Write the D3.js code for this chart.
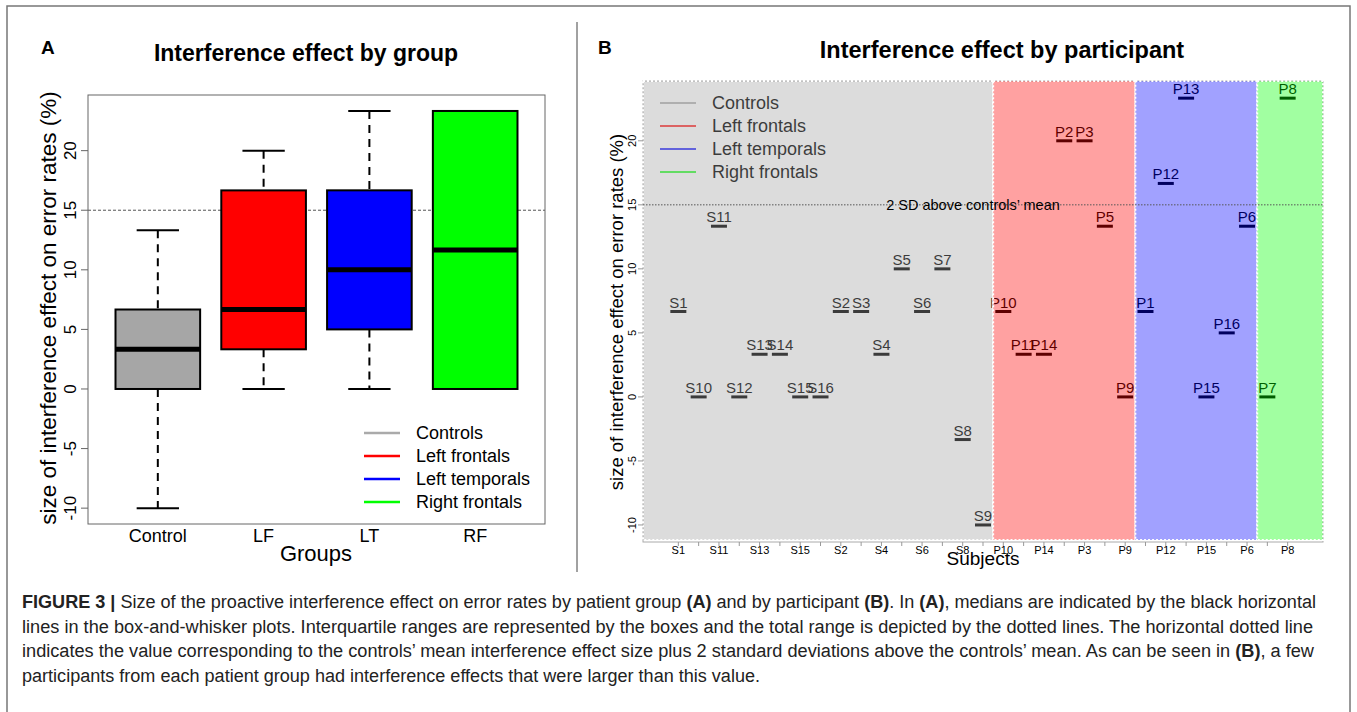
<!DOCTYPE html>
<html>
<head>
<meta charset="utf-8">
<script src="https://cdnjs.cloudflare.com/ajax/libs/d3/7.8.5/d3.min.js"></script>
<style>
  body { margin: 0; background: #fff; }
  svg text { font-family: "Liberation Sans", Arial, Helvetica, sans-serif; }
</style>
</head>
<body>
<svg id="fig" width="1357" height="712"></svg>
<script>
// data (interference effect, %)
var controlIds  = ["S1","S10","S11","S12","S13","S14","S15","S16","S2","S3","S4","S5","S6","S7","S8","S9"];
var controlVals = [6.67, 0, 13.33, 0, 3.33, 3.33, 0, 0, 6.67, 6.67, 3.33, 10, 6.67, 10, -3.33, -10];
var lfIds  = ["P10","P11","P14","P2","P3","P5","P9"];
var lfVals = [6.67, 3.33, 3.33, 20, 20, 13.33, 0];
var ltIds  = ["P1","P12","P13","P15","P16","P6"];
var ltVals = [6.67, 16.67, 23.33, 0, 5, 13.33];
var rfIds  = ["P7","P8"];
var rfVals = [0, 23.33];

var groupNames   = ["Control", "LF", "LT", "RF"];
var legendLabels = ["Controls", "Left frontals", "Left temporals", "Right frontals"];
var groupColors  = ["#a6a6a6", "#ff0000", "#0000ff", "#00ff00"];
var legendColors = ["#a0a0a0", "#ff0000", "#0000ff", "#00ff00"];
var overlayColors = ["#a0a0a0", "#ff0000", "#0000ff", "#00ff00"];
var yTicks = [-10, -5, 0, 5, 10, 15, 20];
var threshold = 15;
var yDomain = [-11.33, 24.67];

var captionLines = [
  [["FIGURE 3 |", true], [" Size of the proactive interference effect on error rates by patient group ", false], ["(A)", true], [" and by participant ", false], ["(B)", true], [". In ", false], ["(A)", true], [", medians are indicated by the black horizontal", false]],
  [["lines in the box-and-whisker plots. Interquartile ranges are represented by the boxes and the total range is depicted by the dotted lines. The horizontal dotted line", false]],
  [["indicates the value corresponding to the controls\u2019 mean interference effect size plus 2 standard deviations above the controls\u2019 mean. As can be seen in ", false], ["(B)", true], [", a few", false]],
  [["participants from each patient group had interference effects that were larger than this value.", false]]
];
var captionWidths = [1294, 1291, 1292, 738];

var groupIds  = [controlIds, lfIds, ltIds, rfIds];
var groupVals = [controlVals, lfVals, ltVals, rfVals];

var svg = d3.select("#fig");

// outer frame + panel separator
svg.append("rect")
    .attr("x", 7).attr("y", 6).attr("width", 1343).attr("height", 720)
    .attr("fill", "none").attr("stroke", "#777").attr("stroke-width", 1.5);
svg.append("line")
    .attr("x1", 577).attr("x2", 577).attr("y1", 22).attr("y2", 572)
    .attr("stroke", "#444").attr("stroke-width", 1);

// R style fivenum + whiskers
function fivenum(vals) {
  var x = vals.slice().sort(d3.ascending);
  var n = x.length;
  var n4 = Math.floor((n + 3) / 2) / 2;
  var d = [1, n4, (n + 1) / 2, n + 1 - n4, n];
  return d.map(function(k) {
    return 0.5 * (x[Math.floor(k) - 1] + x[Math.ceil(k) - 1]);
  });
}
function boxStats(vals) {
  var f = fivenum(vals);
  var iqr = f[3] - f[1];
  var inside = vals.filter(function(v) { return v >= f[1] - 1.5 * iqr - 1e-9 && v <= f[3] + 1.5 * iqr + 1e-9; });
  return { lo: d3.min(inside), q1: f[1], med: f[2], q3: f[3], hi: d3.max(inside) };
}

// ---------------- Panel A ----------------
var a = svg.append("g");
var xA = d3.scaleLinear().domain([0.34, 4.66]).range([88, 545]);
var yA = d3.scaleLinear().domain(yDomain).range([524, 95]);

var stats = groupVals.map(function(v, i) {
  var s = boxStats(v);
  s.pos = i + 1; s.color = groupColors[i]; s.name = groupNames[i];
  return s;
});

a.append("text").attr("x", 41).attr("y", 54)
    .attr("font-size", 19).attr("font-weight", "bold").text("A");
a.append("text").attr("x", 306).attr("y", 61).attr("text-anchor", "middle")
    .attr("font-size", 23).attr("font-weight", "bold").text("Interference effect by group");

// threshold
a.append("line")
    .attr("x1", 88).attr("x2", 545).attr("y1", yA(threshold)).attr("y2", yA(threshold))
    .attr("stroke", "#555").attr("stroke-width", 1).attr("stroke-dasharray", "3,2");

var box = a.selectAll(".box").data(stats).enter().append("g").attr("class", "box");
// whiskers
box.append("line")
    .attr("x1", function(d) { return xA(d.pos); }).attr("x2", function(d) { return xA(d.pos); })
    .attr("y1", function(d) { return yA(d.hi); }).attr("y2", function(d) { return yA(d.q3); })
    .attr("stroke", "#000").attr("stroke-width", 2).attr("stroke-dasharray", "8,6");
box.append("line")
    .attr("x1", function(d) { return xA(d.pos); }).attr("x2", function(d) { return xA(d.pos); })
    .attr("y1", function(d) { return yA(d.q1); }).attr("y2", function(d) { return yA(d.lo); })
    .attr("stroke", "#000").attr("stroke-width", 2).attr("stroke-dasharray", "8,6");
// caps
["hi", "lo"].forEach(function(k) {
  box.append("line")
      .attr("x1", function(d) { return xA(d.pos - 0.2); }).attr("x2", function(d) { return xA(d.pos + 0.2); })
      .attr("y1", function(d) { return yA(d[k]); }).attr("y2", function(d) { return yA(d[k]); })
      .attr("stroke", "#000").attr("stroke-width", 2);
});
box.append("rect")
    .attr("x", function(d) { return xA(d.pos - 0.4); })
    .attr("width", function(d) { return xA(d.pos + 0.4) - xA(d.pos - 0.4); })
    .attr("y", function(d) { return yA(d.q3); })
    .attr("height", function(d) { return yA(d.q1) - yA(d.q3); })
    .attr("fill", function(d) { return d.color; })
    .attr("stroke", "#000").attr("stroke-width", 2);
box.append("line")
    .attr("x1", function(d) { return xA(d.pos - 0.4); }).attr("x2", function(d) { return xA(d.pos + 0.4); })
    .attr("y1", function(d) { return yA(d.med); }).attr("y2", function(d) { return yA(d.med); })
    .attr("stroke", "#000").attr("stroke-width", 5);

// frame
a.append("rect").attr("x", 88).attr("y", 95).attr("width", 457).attr("height", 429)
    .attr("fill", "none").attr("stroke", "#666").attr("stroke-width", 1);

// y axis (rotated labels, R style)
a.selectAll(".ytA").data(yTicks).enter().append("line")
    .attr("x1", 81).attr("x2", 88)
    .attr("y1", function(d) { return yA(d); }).attr("y2", function(d) { return yA(d); })
    .attr("stroke", "#666");
a.selectAll(".ylA").data(yTicks).enter().append("text")
    .attr("transform", function(d) { return "translate(76," + yA(d) + ") rotate(-90)"; })
    .attr("text-anchor", "middle").attr("font-size", 17)
    .text(function(d) { return d; });
a.append("text")
    .attr("transform", "translate(56,308) rotate(-90)")
    .attr("text-anchor", "middle").attr("font-size", 22.5)
    .text("size of interference effect on error rates (%)");

// x labels
a.selectAll(".xlA").data(stats).enter().append("text")
    .attr("x", function(d) { return xA(d.pos); }).attr("y", 542)
    .attr("text-anchor", "middle").attr("font-size", 18)
    .text(function(d) { return d.name; });
a.append("text").attr("x", 316).attr("y", 561).attr("text-anchor", "middle")
    .attr("font-size", 22).text("Groups");

// legend A
var legA = a.selectAll(".legA").data(legendLabels).enter().append("g")
    .attr("transform", function(d, i) { return "translate(0," + (433 + i * 23) + ")"; });
legA.append("line").attr("x1", 364).attr("x2", 400)
    .attr("stroke", function(d, i) { return i === 0 ? "#aaaaaa" : groupColors[i]; })
    .attr("stroke-width", 2.5);
legA.append("text").attr("x", 416).attr("dy", "0.35em").attr("font-size", 18)
    .text(function(d) { return d; });

// ---------------- Panel B ----------------
var b = svg.append("g");
var xB = d3.scaleLinear().domain([-0.74, 32.74]).range([643, 1323]);
var yB = d3.scaleLinear().domain(yDomain).range([542, 81]);

var people = [];
groupIds.forEach(function(ids, g) {
  ids.forEach(function(id, j) {
    people.push({ id: id, value: groupVals[g][j], group: g, pos: people.length + 1 });
  });
});
var bounds = [-0.74];
var cum = 0;
groupIds.forEach(function(ids, g) {
  cum += ids.length;
  bounds.push(g < groupIds.length - 1 ? cum + 0.5 : 32.74);
});

b.append("text").attr("x", 598).attr("y", 54)
    .attr("font-size", 19).attr("font-weight", "bold").text("B");
b.append("text").attr("x", 1002).attr("y", 58).attr("text-anchor", "middle")
    .attr("font-size", 23.5).attr("font-weight", "bold").text("Interference effect by participant");

b.append("rect").attr("x", 643).attr("y", 81).attr("width", 680).attr("height", 461)
    .attr("fill", "none").attr("stroke", "#aaa").attr("stroke-width", 1);

// legend B (drawn beneath the shaded group bands)
var legB = b.selectAll(".legB").data(legendLabels).enter().append("g")
    .attr("transform", function(d, i) { return "translate(0," + (103 + i * 23) + ")"; });
legB.append("line").attr("x1", 660).attr("x2", 696)
    .attr("stroke", function(d, i) { return legendColors[i]; })
    .attr("stroke-width", 1.5);
legB.append("text").attr("x", 712).attr("dy", "0.35em").attr("font-size", 18)
    .attr("fill", "#000").text(function(d) { return d; });

// participant marks + labels
var pts = b.selectAll(".pt").data(people).enter().append("g").attr("class", "pt");
pts.append("line")
    .attr("x1", function(d) { return xB(d.pos) - 8; }).attr("x2", function(d) { return xB(d.pos) + 8; })
    .attr("y1", function(d) { return yB(d.value); }).attr("y2", function(d) { return yB(d.value); })
    .attr("stroke", "#000").attr("stroke-width", 3);
pts.append("text")
    .attr("x", function(d) { return xB(d.pos); })
    .attr("y", function(d) { return yB(d.value) - 4; })
    .attr("text-anchor", "middle").attr("font-size", 15)
    .text(function(d) { return d.id; });

// shaded group bands
b.selectAll(".band").data(overlayColors).enter().append("rect")
    .attr("x", function(d, i) { return xB(bounds[i]); })
    .attr("width", function(d, i) { return xB(bounds[i + 1]) - xB(bounds[i]); })
    .attr("y", 81).attr("height", 459)
    .attr("fill", function(d) { return d; }).attr("fill-opacity", 0.37)
    .attr("stroke", "#fff").attr("stroke-width", 2).attr("stroke-dasharray", "2,2");

// threshold line
b.append("line")
    .attr("x1", 643).attr("x2", 1323).attr("y1", yB(threshold)).attr("y2", yB(threshold))
    .attr("stroke", "#555").attr("stroke-width", 1).attr("stroke-dasharray", "1.5,1.5");
b.append("text").attr("x", 973).attr("y", yB(threshold)).attr("dy", "0.35em")
    .attr("text-anchor", "middle").attr("font-size", 14.5)
    .text("2 SD above controls\u2019 mean");

// axes B
b.selectAll(".ytB").data(yTicks).enter().append("line")
    .attr("x1", 638).attr("x2", 643)
    .attr("y1", function(d) { return yB(d); }).attr("y2", function(d) { return yB(d); })
    .attr("stroke", "#999");
b.selectAll(".ylB").data(yTicks).enter().append("text")
    .attr("transform", function(d) { return "translate(636," + yB(d) + ") rotate(-90)"; })
    .attr("text-anchor", "middle").attr("font-size", 11)
    .text(function(d) { return d; });
b.append("text")
    .attr("transform", "translate(623,312) rotate(-90)")
    .attr("text-anchor", "middle").attr("font-size", 18.5)
    .text("size of interference effect on error rates (%)");

b.selectAll(".xtB").data(people).enter().append("line")
    .attr("x1", function(d) { return xB(d.pos); }).attr("x2", function(d) { return xB(d.pos); })
    .attr("y1", 542).attr("y2", 546)
    .attr("stroke", "#999");
b.selectAll(".xlB").data(people.filter(function(d) { return d.pos % 2 === 1; })).enter().append("text")
    .attr("x", function(d) { return xB(d.pos); }).attr("y", 554)
    .attr("text-anchor", "middle").attr("font-size", 11)
    .text(function(d) { return d.id; });
b.append("text").attr("x", 983).attr("y", 565).attr("text-anchor", "middle")
    .attr("font-size", 19).text("Subjects");

// ---------------- caption ----------------
var cap = svg.selectAll(".cap").data(captionLines).enter().append("text")
    .attr("x", 22)
    .attr("y", function(d, i) { return 608 + i * 24.5; })
    .attr("font-size", 18)
    .attr("fill", "#222")
    .attr("textLength", function(d, i) { return captionWidths[i]; })
    .attr("lengthAdjust", "spacingAndGlyphs");
cap.selectAll("tspan").data(function(d) { return d; }).enter().append("tspan")
    .attr("font-weight", function(d) { return d[1] ? "bold" : "normal"; })
    .text(function(d) { return d[0]; });
</script>
</body>
</html>
